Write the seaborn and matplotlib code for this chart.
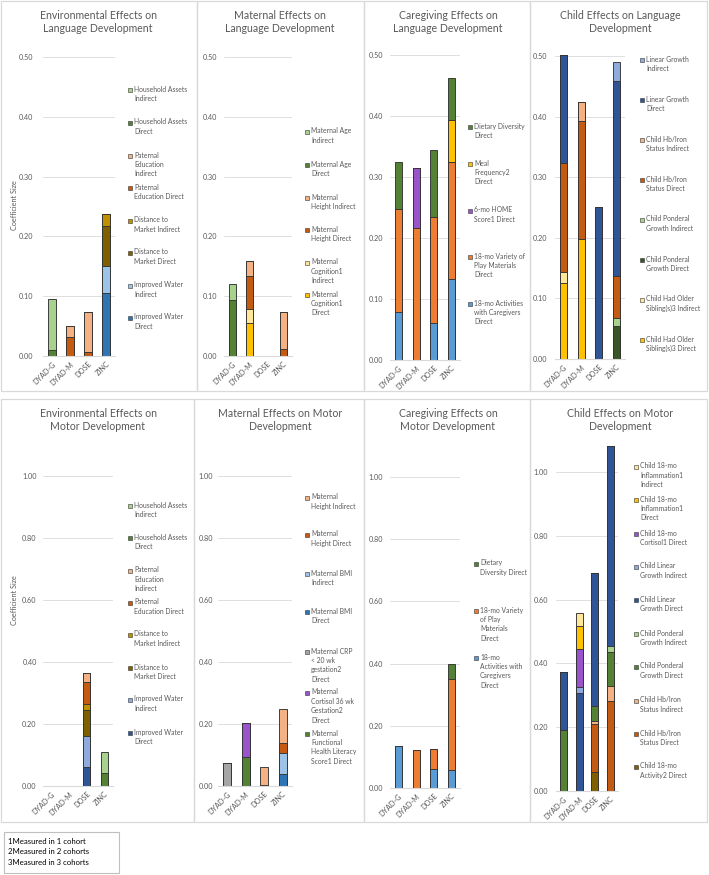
import numpy as np
import pandas as pd
import matplotlib
matplotlib.use("Agg")
import matplotlib.pyplot as plt
from matplotlib.patches import Rectangle
import seaborn as sns

W, H, DPI = 709, 875, 100

sns.set_theme(style="white")
plt.rcParams['font.family'] = ['Lato', 'DejaVu Sans']

COHORTS = ["DYAD-G", "DYAD-M", "DOSE", "ZINC"]

# ---------- Panel 1: Environmental effects on language (stack bottom -> top)
ENV_LANG_LABELS = ["Improved Water\nDirect", "Improved Water\nIndirect",
                   "Distance to\nMarket Direct", "Distance to\nMarket Indirect",
                   "Paternal\nEducation Direct", "Paternal\nEducation\nIndirect",
                   "Household Assets\nDirect", "Household Assets\nIndirect"]
ENV_LANG_VALUES = [[0, 0, 0, 0.105], [0, 0, 0, 0.045],
                   [0, 0, 0, 0.067], [0, 0, 0, 0.020],
                   [0, 0.031, 0.007, 0], [0, 0.020, 0.066, 0],
                   [0.010, 0, 0, 0], [0.086, 0, 0, 0]]
ENV_LANG_COLORS = ["#2E75B6", "#9DC3E6", "#7F6000", "#BF9000",
                   "#C55A11", "#F4B183", "#548235", "#A9D18E"]

# ---------- Panel 2: Maternal effects on language
MAT_LANG_LABELS = ["Maternal\nCognition1\nDirect", "Maternal\nCognition1\nIndirect",
                   "Maternal\nHeight Direct", "Maternal\nHeight Indirect",
                   "Maternal Age\nDirect", "Maternal Age\nIndirect"]
MAT_LANG_VALUES = [[0, 0.055, 0, 0], [0, 0.024, 0, 0],
                   [0, 0.054, 0, 0.011], [0, 0.026, 0, 0.063],
                   [0.093, 0, 0, 0], [0.027, 0, 0, 0]]
MAT_LANG_COLORS = ["#FFC000", "#FFE699", "#C55A11", "#F4B183", "#548235", "#A9D18E"]

# ---------- Panel 3: Caregiving effects on language
CARE_LANG_LABELS = ["18-mo Activities\nwith Caregivers\nDirect",
                    "18-mo Variety of\nPlay Materials\nDirect",
                    "6-mo HOME\nScore1 Direct", "Meal\nFrequency2\nDirect",
                    "Dietary Diversity\nDirect"]
CARE_LANG_VALUES = [[0.078, 0, 0.060, 0.132], [0.169, 0.216, 0.174, 0.192],
                    [0, 0.098, 0, 0], [0, 0, 0, 0.069], [0.077, 0, 0.110, 0.069]]
CARE_LANG_COLORS = ["#5B9BD5", "#ED7D31", "#9954CC", "#FFC000", "#548235"]

# ---------- Panel 4: Child effects on language
CHILD_LANG_LABELS = ["Child Had Older\nSibling(s)3 Direct", "Child Had Older\nSibling(s)3 Indirect",
                     "Child Ponderal\nGrowth Direct", "Child Ponderal\nGrowth Indirect",
                     "Child Hb/Iron\nStatus Direct", "Child Hb/Iron\nStatus Indirect",
                     "Linear Growth\nDirect", "Linear Growth\nIndirect"]
CHILD_LANG_VALUES = [[0.126, 0.198, 0, 0], [0.017, 0, 0, 0],
                     [0, 0, 0, 0.054], [0, 0, 0, 0.014],
                     [0.181, 0.194, 0, 0.069], [0, 0.032, 0, 0],
                     [0.178, 0, 0.251, 0.322], [0, 0, 0, 0.031]]
CHILD_LANG_COLORS = ["#FFC000", "#FFE699", "#375623", "#A9D18E",
                     "#C55A11", "#F4B183", "#2F5597", "#8FAADC"]

# ---------- Panel 5: Environmental effects on motor
ENV_MOT_LABELS = ENV_LANG_LABELS
ENV_MOT_VALUES = [[0, 0, 0.061, 0], [0, 0, 0.099, 0],
                  [0, 0, 0.085, 0], [0, 0, 0.021, 0],
                  [0, 0, 0.069, 0], [0, 0, 0.029, 0],
                  [0, 0, 0, 0.043], [0, 0, 0, 0.066]]
ENV_MOT_COLORS = ["#2F5597", "#8FAADC", "#7F6000", "#BF9000",
                  "#C55A11", "#F4B183", "#548235", "#A9D18E"]

# ---------- Panel 6: Maternal effects on motor
MAT_MOT_LABELS = ["Maternal\nFunctional\nHealth Literacy\nScore1 Direct",
                  "Maternal\nCortisol 36 wk\nGestation2\nDirect",
                  "Maternal CRP\n< 20 wk\ngestation2\nDirect",
                  "Maternal BMI\nDirect", "Maternal BMI\nIndirect",
                  "Maternal\nHeight Direct", "Maternal\nHeight Indirect"]
MAT_MOT_VALUES = [[0, 0.094, 0, 0], [0, 0.110, 0, 0], [0.073, 0, 0, 0],
                  [0, 0, 0, 0.038], [0, 0, 0, 0.067],
                  [0, 0, 0.003, 0.035], [0, 0, 0.059, 0.110]]
MAT_MOT_COLORS = ["#548235", "#9954CC", "#A5A5A5", "#2E75B6", "#9DC3E6", "#C55A11", "#F4B183"]

# ---------- Panel 7: Caregiving effects on motor
CARE_MOT_LABELS = ["18-mo\nActivities with\nCaregivers\nDirect",
                   "18-mo Variety\nof Play\nMaterials\nDirect",
                   "Dietary\nDiversity Direct"]
CARE_MOT_VALUES = [[0.134, 0, 0.062, 0.057], [0, 0.123, 0.063, 0.293], [0, 0, 0, 0.048]]
CARE_MOT_COLORS = ["#5B9BD5", "#ED7D31", "#548235"]

# ---------- Panel 8: Child effects on motor
CHILD_MOT_LABELS = ["Child 18-mo\nActivity2 Direct", "Child Hb/Iron\nStatus Direct",
                    "Child Hb/Iron\nStatus Indirect", "Child Ponderal\nGrowth Direct",
                    "Child Ponderal\nGrowth Indirect", "Child Linear\nGrowth Direct",
                    "Child Linear\nGrowth Indirect", "Child 18-mo\nCortisol1 Direct",
                    "Child 18-mo\nInflammation1\nDirect", "Child 18-mo\nInflammation1\nIndirect"]
CHILD_MOT_VALUES = [[0, 0, 0.061, 0], [0, 0, 0.148, 0.281], [0, 0, 0.010, 0.047],
                    [0.190, 0, 0.049, 0.108], [0, 0, 0, 0.018],
                    [0.183, 0.308, 0.414, 0.629], [0, 0.018, 0, 0],
                    [0, 0.120, 0, 0], [0, 0.072, 0, 0], [0, 0.039, 0, 0]]
CHILD_MOT_COLORS = ["#7F6000", "#C55A11", "#F4B183", "#548235", "#A9D18E",
                    "#2F5597", "#8FAADC", "#9954CC", "#FFC000", "#FFE699"]

TITLES = ["Environmental Effects on\nLanguage Development",
          "Maternal Effects on\nLanguage Development",
          "Caregiving Effects on\nLanguage Development",
          "Child Effects on Language\nDevelopment",
          "Environmental Effects on\nMotor Development",
          "Maternal Effects on Motor\nDevelopment",
          "Caregiving Effects on\nMotor Development",
          "Child Effects on Motor\nDevelopment"]
FOOTNOTES = ["1Measured in 1 cohort", "2Measured in 2 cohorts", "3Measured in 3 cohorts"]
YLABEL = "Coefficient Size"

# ---------- layout (pixels)
PANELS = [
    dict(lab=ENV_LANG_LABELS, val=ENV_LANG_VALUES, col=ENV_LANG_COLORS,
         ax=(43, 115, 356, 57, 0.5, 0.5), ticks=np.arange(0, 0.51, 0.1), pad=7,
         title=(98, 22), box=(1, 1, 197, 391), lx=128,
         ly=[90, 123, 156, 188, 221, 253, 286, 318], ylab=(15, 205)),
    dict(lab=MAT_LANG_LABELS, val=MAT_LANG_VALUES, col=MAT_LANG_COLORS,
         ax=(224, 292, 356, 57, 0.5, 0.5), ticks=np.arange(0, 0.51, 0.1), pad=5,
         title=(280, 22), box=(197, 1, 364, 391), lx=305,
         ly=[132, 165, 198, 230, 263, 295]),
    dict(lab=CARE_LANG_LABELS, val=CARE_LANG_VALUES, col=CARE_LANG_COLORS,
         ax=(390, 460, 360, 55, 0.5, 0.5), ticks=np.arange(0, 0.51, 0.1), pad=5,
         title=(448, 22), box=(364, 1, 530, 391), lx=468,
         ly=[127, 164, 211, 257, 304]),
    dict(lab=CHILD_LANG_LABELS, val=CHILD_LANG_VALUES, col=CHILD_LANG_COLORS,
         ax=(555, 625, 359, 56, 0.5, 0.505), ticks=np.arange(0, 0.51, 0.1), pad=5.5,
         title=(620, 22), box=(530, 1, 707, 391), lx=640,
         ly=[60, 100, 140, 180, 220, 260, 300, 340]),
    dict(lab=ENV_MOT_LABELS, val=ENV_MOT_VALUES, col=ENV_MOT_COLORS,
         ax=(43, 113, 786, 476, 1.0, 1.0), ticks=np.arange(0, 1.01, 0.2), pad=4.5,
         title=(98, 420), box=(1, 399, 194, 822), lx=128,
         ly=[506, 538, 571, 603, 635, 668, 700, 733], ylab=(15, 600)),
    dict(lab=MAT_MOT_LABELS, val=MAT_MOT_VALUES, col=MAT_MOT_COLORS,
         ax=(218, 292, 786, 476, 1.0, 1.0), ticks=np.arange(0, 1.01, 0.2), pad=3.6,
         title=(280, 420), box=(194, 399, 364, 822), lx=305,
         ly=[498, 535, 574, 612, 652, 693, 734]),
    dict(lab=CARE_MOT_LABELS, val=CARE_MOT_VALUES, col=CARE_MOT_COLORS,
         ax=(390, 460, 788, 477, 1.0, 1.0), ticks=np.arange(0, 1.01, 0.2), pad=5,
         title=(448, 420), box=(364, 399, 530, 822), lx=474,
         ly=[564, 611, 658]),
    dict(lab=CHILD_MOT_LABELS, val=CHILD_MOT_VALUES, col=CHILD_MOT_COLORS,
         ax=(556, 618, 791, 472, 1.0, 1.1), ticks=np.arange(0, 1.01, 0.2), pad=5.5,
         title=(620, 420), box=(530, 399, 707, 822), lx=634,
         ly=[467, 500, 534, 567, 600, 634, 667, 701, 734, 767]),
]

GRAY_TXT = "#595959"
GRID = "#D9D9D9"
EDGE = "#333333"
F_TICK, F_LEG, F_TITLE = 5.2, 4.9, 7.6

fig = plt.figure(figsize=(W / DPI, H / DPI), dpi=DPI)
fig.patch.set_facecolor("white")


def fx(x):
    return x / W


def fy(y):
    return 1 - y / H


def fig_rect(x0, y0, x1, y1, **kw):
    fig.add_artist(Rectangle((fx(x0), fy(y1)), (x1 - x0) / W, (y1 - y0) / H,
                             transform=fig.transFigure, **kw))


for i, p in enumerate(PANELS):
    # panel frame
    fig_rect(*p["box"], fill=False, edgecolor=GRID, linewidth=0.9)
    x0, x1, yz, yr, rv, ytop = p["ax"]
    top_px = yz - ytop * (yz - yr) / rv
    ax = fig.add_axes([fx(x0), fy(yz), (x1 - x0) / W, (yz - top_px) / H])
    ax.set_facecolor("none")

    vals = np.array(p["val"], dtype=float)
    cum = np.cumsum(vals, axis=0)
    n = len(vals)
    for k in range(n - 1, -1, -1):
        h = cum[k].copy()
        h[h <= 0] = np.nan
        df = pd.DataFrame({"cohort": COHORTS, "value": h})
        sns.barplot(data=df, x="cohort", y="value", order=COHORTS, color=p["col"][k],
                    saturation=1, width=0.42, errorbar=None, edgecolor=EDGE,
                    linewidth=0.65, ax=ax, zorder=3)

    ax.set_xlim(-0.5, 3.5)
    ax.set_ylim(0, ytop)
    ax.set_yticks(p["ticks"])
    ax.set_yticklabels([f"{t:.2f}" for t in p["ticks"]], fontsize=F_TICK, color=GRAY_TXT)
    ax.set_xticks(range(4))
    ax.set_xticklabels(COHORTS, rotation=45, ha="right", rotation_mode="anchor",
                       fontsize=F_TICK, color=GRAY_TXT)
    ax.tick_params(axis="both", length=0)
    ax.tick_params(axis="y", pad=p["pad"])
    ax.tick_params(axis="x", pad=3)
    ax.set_xlabel("")
    ax.set_ylabel("")
    for s in ["top", "right", "left"]:
        ax.spines[s].set_visible(False)
    ax.spines["bottom"].set_color(GRID)
    ax.spines["bottom"].set_linewidth(0.8)
    ax.spines["bottom"].set_zorder(4)
    for t in p["ticks"][1:]:
        ax.axhline(t, color=GRID, linewidth=0.6, zorder=1)

    # title
    tx, ty = p["title"]
    fig.text(fx(tx), fy(ty), TITLES[i], ha="center", va="center", fontsize=F_TITLE,
             color=GRAY_TXT, linespacing=1.25)

    if "ylab" in p:
        fig.text(fx(p["ylab"][0]), fy(p["ylab"][1]), YLABEL, rotation=90, ha="center",
                 va="center", fontsize=F_TICK, color=GRAY_TXT)

    # legend (top entry = top of stack)
    for j, yc in enumerate(p["ly"]):
        k = n - 1 - j
        fig_rect(p["lx"], yc - 2, p["lx"] + 4, yc + 2, facecolor=p["col"][k],
                 edgecolor=EDGE, linewidth=0.4)
        fig.text(fx(p["lx"] + 6), fy(yc - 4.5), p["lab"][k], ha="left", va="top",
                 fontsize=F_LEG, color=GRAY_TXT, linespacing=1.4)

# footnote box
fig_rect(4, 832, 119, 873, fill=False, edgecolor="#BFBFBF", linewidth=0.8)
for j, line in enumerate(FOOTNOTES):
    fig.text(fx(8), fy(841 + 10.7 * j), line, ha="left", va="center", fontsize=5.6,
             color="#000000")

fig.savefig("out.png", dpi=DPI, facecolor="white")
